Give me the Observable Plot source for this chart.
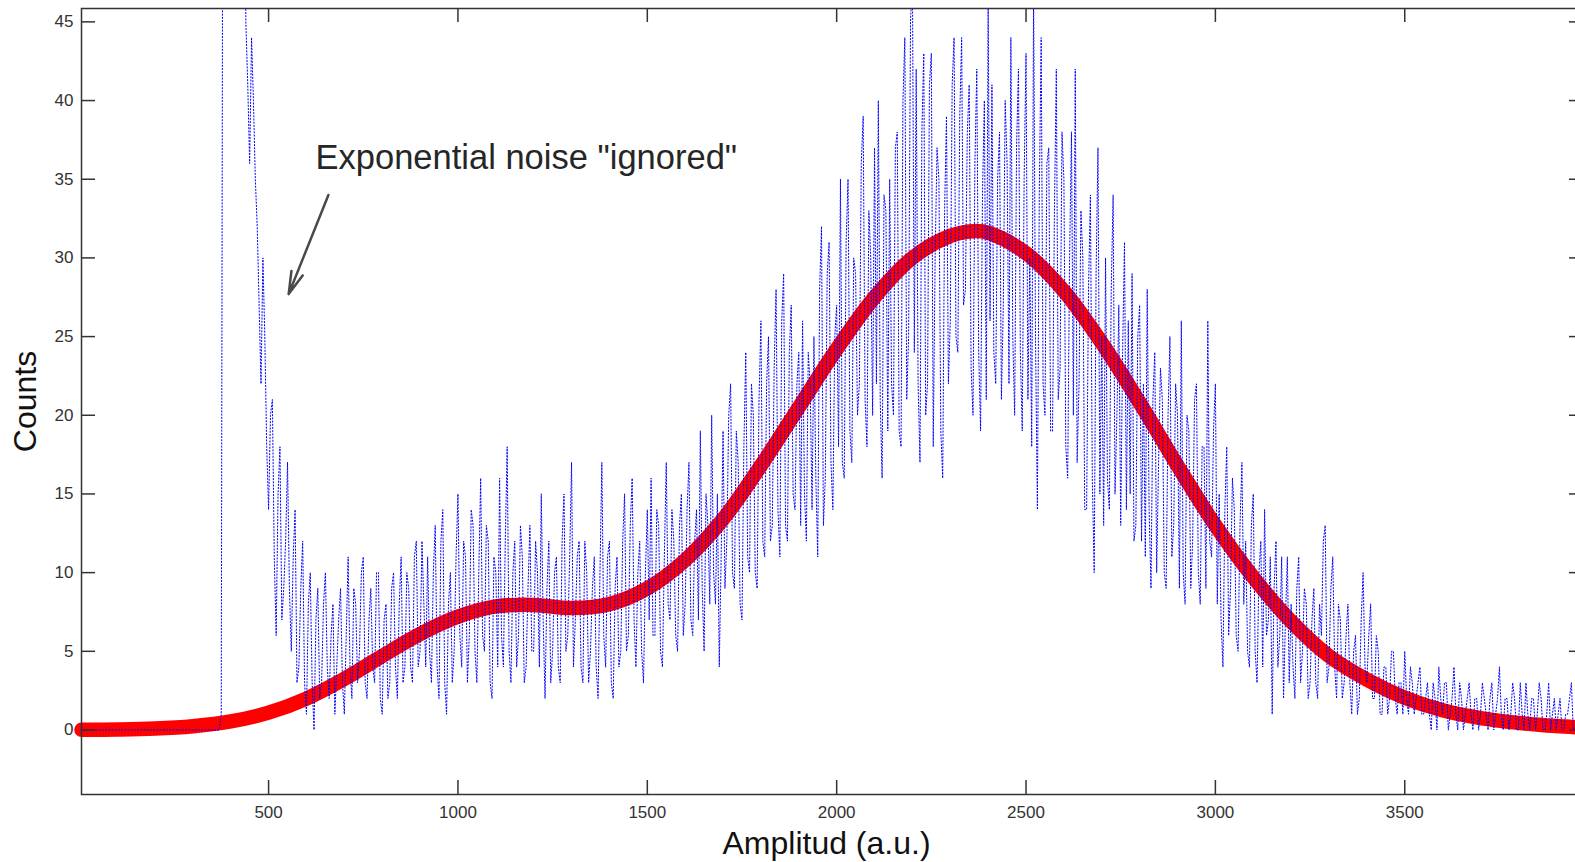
<!DOCTYPE html>
<html><head><meta charset="utf-8">
<script src="https://cdn.jsdelivr.net/npm/d3@7"></script>
<script src="https://cdn.jsdelivr.net/npm/@observablehq/plot@0.6"></script>
<style>html,body{margin:0;padding:0;background:#fff;overflow:hidden}</style>
</head><body><div id="chart"></div>
<script>
// ---- data ----
// counts at channels 10, 20, 30, ... (step 10)
const blueStartA = 10, blueStep = 10;
const blueCountsA = [
  0,0,0,0,0,0,0,0,0,0,
  0,0,0,0,0,0,0,0,0,0,
  0,0,0,0,0,0,0,0,0,0,
  0,0,0,0,0,0,0,70,120,150,
  140,110,75,45,36,40,32,22,25,14,
  21,6,18,9,17,5,14,4,12,1,
  10,0,9,3,10,2,8,4,9,1,
  11,2,8,5,11,2,9,3,10,1,
  8,3,10,2,11,4,9,3,12,5,
  8,11,3,13,2,14,1,10,5,15,
  4,11,6,13,3,16,5,12,2,10,
  16,4,18,3,12,6,11,4,13,5,
  10,15,2,12,5,11,3,15,6,17,
  7,12,3,10,5,11,2,17,4,12,
  2,11,5,15,6,16,4,12,3,14,
  16,6,13,4,17,7,12,5,15,8,
  17,6,14,19,5,13,20,8,4,19,
  12,22,9,17,7,24,10,20,9,26,
  11,25,13,28,11,29,12,27,14,24,
  26,12,22,25,11,32,16,31,14,27,
  35,16,35,17,29,22,39,18,30,37,
  40,16,33,35,20,38,18,44,25,48,
  42,17,43,22,43,30,35,16,39,26,
  44,24,44,28,41,20,42,19,40,46,
  41,22,38,27,36,44,20,42,19,43,
  30,47,14,44,20,37,19,42,23,35,
  16,38,42,22,30,14,34,10,37,25,
  30,14,34,20,13,31,26,29,13,27,
  22,28,9,24,17,21,9,25,13,20,
  26,8,19,12,22,8,18,26,11,22,
  15,4,18,9,14,5,17,12,4,15,
  3,12,14,7,1,12,6,2,11,8,
  2,11,5,8,3,9,2,6,13,4,
  11,2,7,3,8,1,6,2,10,3,
  8,2,5,1,4,2,5,1,3,5,
  1,3,2,4,1,3,0,2,4,1,
  3,1,4,0,2,1,3,0,2,1,
  2,0,3,1,4,0,2,1,2,0,
  1,3,0,2,1,2,0,3,1,0,
  2,0,1,3,0,1
];
// counts at channels 15, 25, 35, ... (step 10)
const blueStartB = 15;
const blueCountsB = [
  0,0,0,0,0,0,0,0,0,0,
  0,0,0,0,0,0,0,0,0,0,
  0,0,0,0,0,0,0,0,0,0,
  0,0,0,0,0,0,1,100,140,160,
  130,90,60,41,44,35,27,30,18,20,
  11,15,7,12,9,11,3,9,3,8,
  3,7,2,8,4,6,1,7,3,6,
  4,9,3,10,3,7,4,10,2,7,
  2,9,4,8,3,10,4,11,4,12,
  4,5,10,4,12,3,8,3,11,6,
  12,3,14,5,10,6,13,3,11,4,
  6,12,5,10,4,13,3,9,5,12,
  4,7,9,3,10,4,12,5,11,4,
  11,4,12,3,9,4,10,6,11,3,
  9,4,12,5,13,7,10,5,10,7,
  6,14,5,11,8,14,6,13,6,14,
  7,12,7,9,15,8,10,15,11,9,
  20,10,19,8,18,11,22,10,21,12,
  22,12,23,14,26,13,24,15,22,13,
  15,24,14,16,28,13,29,17,25,18,
  17,31,19,30,20,36,21,33,20,22,
  21,34,19,22,37,19,40,21,45,24,
  22,38,20,41,18,37,19,33,22,41,
  25,39,27,38,23,36,24,34,21,26,
  24,35,21,40,22,25,37,24,35,21,
  18,25,34,22,36,19,33,21,38,18,
  30,20,17,33,14,28,16,29,15,13,
  16,28,15,27,24,14,15,12,25,12,
  11,14,21,10,23,10,20,11,22,9,
  10,20,9,21,10,18,9,12,19,8,
  7,14,6,16,6,13,8,5,13,5,
  10,4,6,11,9,4,11,7,3,4,
  9,3,9,2,7,3,8,12,3,9,
  4,8,2,6,3,5,1,7,4,6,
  2,6,1,4,1,5,2,3,1,2,
  4,1,3,1,2,1,3,0,2,3,
  0,2,1,3,0,2,1,2,0,3,
  1,2,0,2,1,2,0,3,0,3,
  0,1,2,0,3,0,1,0,2,1,
  0,1,2,0,2
];
// fitted curve (thick red)
const fitX = [6,100,200,300,400,500,600,700,800,900,1000,1100,1200,1300,1400,1500,1600,1700,1800,1900,2000,2100,2200,2300,2360,2400,2500,2600,2700,2800,2900,3000,3100,3200,3300,3400,3500,3600,3700,3800,3900,3972];
const fitY = [0.01,0.03,0.09,0.24,0.54,1.1,2.0,3.25,4.7,6.1,7.2,7.85,7.95,7.75,8.0,9.0,10.8,13.4,16.8,20.5,24.2,27.5,30.0,31.4,31.7,31.6,30.3,27.9,24.6,20.8,16.8,13.0,9.7,6.9,4.7,3.2,2.05,1.25,0.75,0.45,0.25,0.15];
const xTicks = [500,1000,1500,2000,2500,3000,3500];
const yTicks = [0,5,10,15,20,25,30,35,40,45];
const xDomain = [6, 3972];
const yDomain = [-4.1, 45.85];
const xTitle = "Amplitud (a.u.)";
const yTitle = "Counts";
const noteText = ['Exponential noise "ignored"'];
const notePos = {x: 624, y: 36.35};
const arrowSeg = [{x1: 658, y1: 34.0, x2: 553, y2: 27.7}];

// ---- build ----
const blue = [
  ...blueCountsA.map((c, i) => ({x: blueStartA + i * blueStep, y: c})),
  ...blueCountsB.map((c, i) => ({x: blueStartB + i * blueStep, y: c}))
].sort((a, b) => a.x - b.x);
const fit = fitX.map((x, i) => ({x, y: fitY[i]}));

const W = 1575, H = 862, mL = 81, mR = -8, mT = 8, mB = 68;
const fw = W - mL - mR, fh = H - mT - mB;
const axisCol = "#333333";
const font = "Arial, 'Liberation Sans', Helvetica, sans-serif";

const chart = Plot.plot({
  width: W, height: H,
  marginLeft: mL, marginRight: mR, marginTop: mT, marginBottom: mB,
  style: {fontFamily: font, color: axisCol, background: "#fff"},
  x: {domain: xDomain},
  y: {domain: yDomain},
  marks: [
    Plot.line(fit, {x: "x", y: "y", stroke: "#ff0000", strokeWidth: 14.5, curve: "catmull-rom", strokeLinecap: "round"}),
    Plot.line(blue, {x: "x", y: "y", stroke: "#0000ff", strokeWidth: 1, strokeDasharray: "1.2,2", clip: true}),
    Plot.frame({stroke: axisCol, strokeWidth: 1.5}),
    Plot.ruleX(xTicks, {x: d => d, insetTop: fh - 14, stroke: axisCol, strokeWidth: 1.5}),
    Plot.ruleX(xTicks, {x: d => d, insetBottom: fh - 14, stroke: axisCol, strokeWidth: 1.5}),
    Plot.ruleY(yTicks, {y: d => d, insetRight: fw - 14, stroke: axisCol, strokeWidth: 1.5}),
    Plot.ruleY(yTicks, {y: d => d, insetLeft: fw - 14, stroke: axisCol, strokeWidth: 1.5}),
    Plot.axisX(xTicks, {anchor: "bottom", tickSize: 0, tickPadding: 11, fontSize: 17, tickFormat: d3.format("d"), label: null, fill: axisCol}),
    Plot.axisY(yTicks, {anchor: "left", tickSize: 0, tickPadding: 8, fontSize: 17, tickFormat: d3.format("d"), label: null, fill: axisCol}),
    Plot.text([xTitle], {text: d => d, frameAnchor: "bottom", dy: 49, dx: -6, textAnchor: "middle", lineAnchor: "middle", fontSize: 32, fill: "#111"}),
    Plot.text([yTitle], {text: d => d, frameAnchor: "left", dx: -56, rotate: -90, textAnchor: "middle", lineAnchor: "middle", fontSize: 32, fill: "#111"}),
    Plot.text(noteText, {text: d => d, x: () => notePos.x, y: () => notePos.y, textAnchor: "start", lineAnchor: "middle", fontSize: 34.5, fill: "#262626"}),
    Plot.arrow(arrowSeg, {x1: "x1", y1: "y1", x2: "x2", y2: "y2", stroke: "#4a4a4a", strokeWidth: 2.5, headLength: 14, headAngle: 30})
  ]
});
document.getElementById("chart").appendChild(chart);
</script>
</body></html>
